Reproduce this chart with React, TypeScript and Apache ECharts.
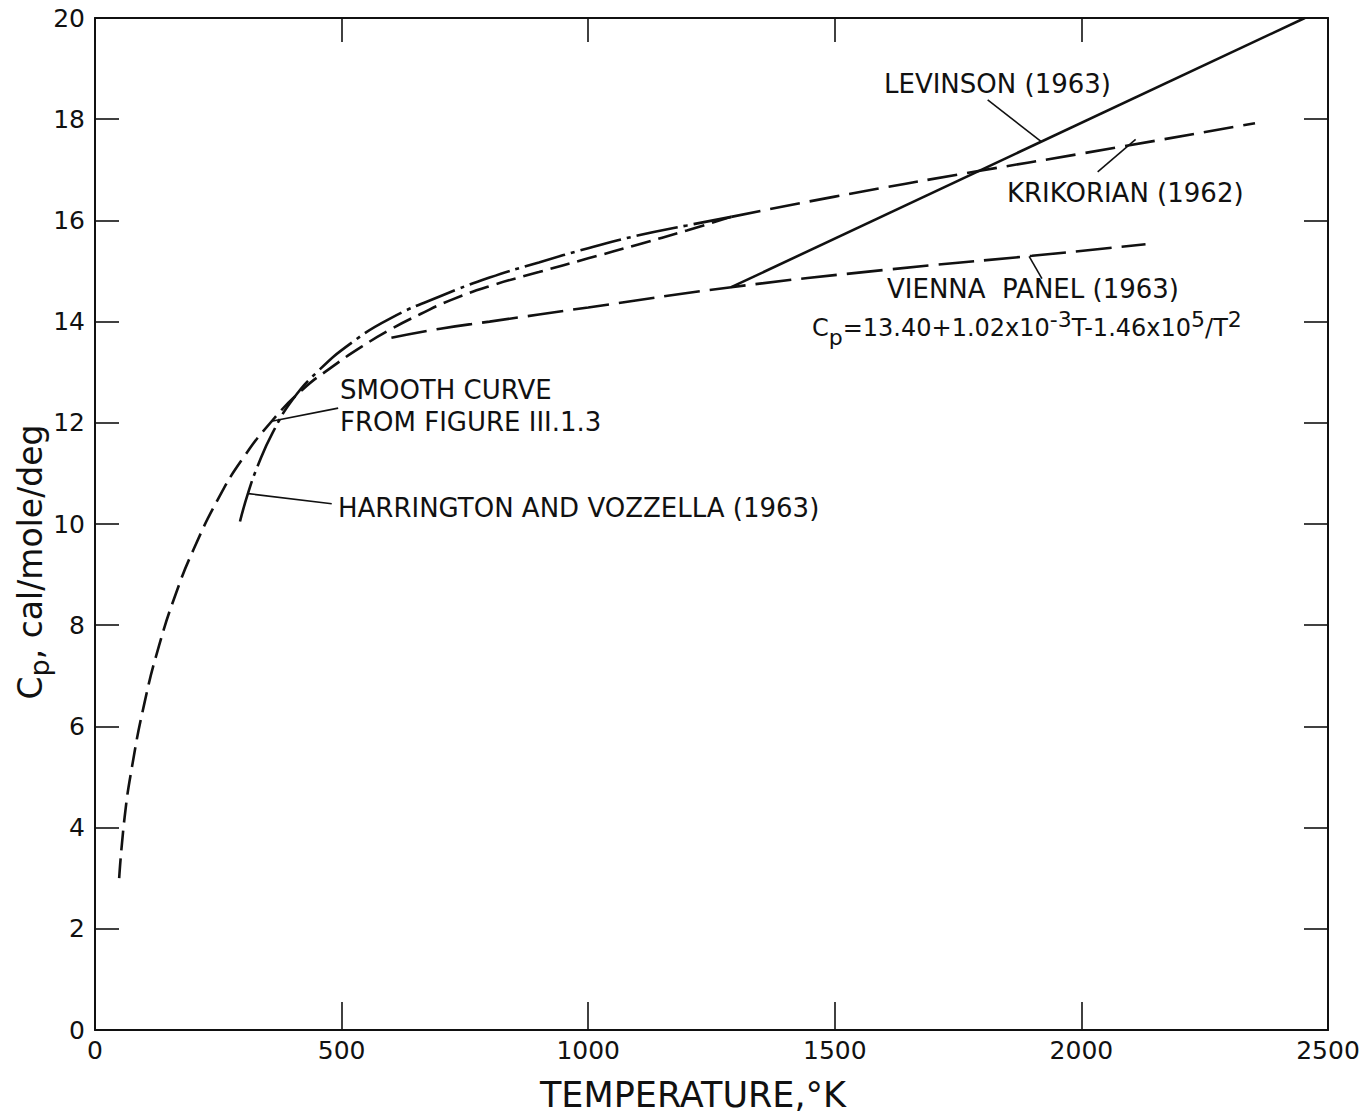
import React, { useEffect, useRef } from "react";
import * as echarts from "echarts";

// Tick values
const xTicks = [0, 500, 1000, 1500, 2000, 2500];
const yTicks = [0, 2, 4, 6, 8, 10, 12, 14, 16, 18, 20];

// Smooth curve from Figure III.1.3 (dashed)
const smoothCurve: [number, number][] = [
  [49, 3.0], [60, 4.2], [75, 5.2], [100, 6.45], [130, 7.6], [165, 8.65],
  [200, 9.5], [250, 10.5], [300, 11.3], [360, 12.05], [420, 12.65],
  [480, 13.1], [540, 13.5], [600, 13.85], [660, 14.15], [720, 14.42],
  [800, 14.7], [900, 14.98], [1000, 15.25], [1100, 15.52], [1200, 15.8],
  [1290, 16.07],
];

// Harrington and Vozzella (1963) (dash-dot)
const harrington: [number, number][] = [
  [294, 10.05], [310, 10.6], [330, 11.15], [360, 11.8], [400, 12.45],
  [450, 13.0], [520, 13.58], [600, 14.07], [700, 14.5], [800, 14.87],
  [900, 15.17], [1000, 15.45], [1100, 15.7], [1200, 15.9], [1290, 16.07],
];

// Krikorian (1962) (dashed)
const krikorian: [number, number][] = [
  [1290, 16.07], [1500, 16.47], [1788, 16.97], [2000, 17.32], [2352, 17.92],
];

// Vienna Panel (1963) (long dashed)
const vienna: [number, number][] = [
  [601, 13.68], [700, 13.86], [800, 14.0], [1000, 14.28], [1290, 14.68],
  [1600, 15.02], [1900, 15.3], [2130, 15.53],
];

// Levinson (1963) (solid)
const levinson: [number, number][] = [
  [1290, 14.68], [2453, 20.0],
];

// Leader lines from labels to curves
const leaders: [number, number][][] = [
  [[1918, 17.56], [1810, 18.38]],
  [[2110, 17.6], [2033, 16.96]],
  [[1894, 15.29], [1920, 14.85]],
  [[358, 12.03], [493, 12.29]],
  [[311, 10.6], [480, 10.4]],
];

const FONT = "DejaVu Sans";
const INK = "#111";

export default function App() {
  const ref = useRef<HTMLDivElement>(null);
  useEffect(() => {
    document.body.style.margin = "0";
    if (!ref.current) return;
    const chart = echarts.init(ref.current, null, { renderer: "svg" });

    const curve = (name: string, data: [number, number][], type: any, smooth: number | boolean) => ({
      name,
      type: "line",
      data,
      smooth,
      symbol: "none",
      silent: true,
      lineStyle: { color: INK, width: 2.6, type, cap: "butt" },
      z: 3,
    });

    const series: any[] = [
      curve("Smooth curve from Figure III.1.3", smoothCurve, [20, 8], 0.5),
      curve("Harrington and Vozzella (1963)", harrington, [42, 6, 4, 6], 0.5),
      curve("Krikorian (1962)", krikorian, [30, 10], 0.5),
      curve("Vienna Panel (1963)", vienna, [36, 10], 0.5),
      curve("Levinson (1963)", levinson, "solid", false),
      ...leaders.map((seg, i) => ({
        name: "leader" + i,
        type: "line",
        data: seg,
        symbol: "none",
        silent: true,
        lineStyle: { color: INK, width: 1.6, type: "solid" },
        z: 2,
      })),
    ];

    const axisCommon = {
      type: "value",
      splitLine: { show: false },
      axisLine: { show: true, onZero: false, lineStyle: { color: INK, width: 2 } },
    };

    const labelText = (text: string, x: number, y: number, extra: any = {}) => ({
      type: "text",
      x,
      y,
      silent: true,
      style: {
        text,
        fill: INK,
        font: `26px "${FONT}"`,
        align: "left",
        verticalAlign: "middle",
        ...extra,
      },
    });

    const fmt = (v: number) => String(v);

    chart.setOption({
      animation: false,
      backgroundColor: "#fff",
      grid: { left: 95, right: 40, top: 18, bottom: 87 },
      xAxis: [
        {
          ...axisCommon,
          position: "bottom",
          min: xTicks[0],
          max: xTicks[xTicks.length - 1],
          interval: xTicks[1] - xTicks[0],
          axisTick: { show: true, inside: true, length: 28, lineStyle: { color: INK, width: 1.6 } },
          axisLabel: { color: INK, fontSize: 25, fontFamily: FONT, margin: 8, formatter: fmt },
        },
        {
          ...axisCommon,
          position: "top",
          min: xTicks[0],
          max: xTicks[xTicks.length - 1],
          interval: xTicks[1] - xTicks[0],
          axisTick: { show: true, inside: true, length: 24, lineStyle: { color: INK, width: 1.6 } },
          axisLabel: { show: false },
        },
      ],
      yAxis: [
        {
          ...axisCommon,
          position: "left",
          min: yTicks[0],
          max: yTicks[yTicks.length - 1],
          interval: yTicks[1] - yTicks[0],
          axisTick: { show: true, inside: true, length: 24, lineStyle: { color: INK, width: 1.6 } },
          axisLabel: { color: INK, fontSize: 25, fontFamily: FONT, margin: 10, formatter: fmt },
        },
        {
          ...axisCommon,
          position: "right",
          min: yTicks[0],
          max: yTicks[yTicks.length - 1],
          interval: yTicks[1] - yTicks[0],
          axisTick: { show: true, inside: true, length: 24, lineStyle: { color: INK, width: 1.6 } },
          axisLabel: { show: false },
        },
      ],
      series,
      graphic: [
        labelText("LEVINSON (1963)", 884, 84),
        labelText("KRIKORIAN (1962)", 1007, 193),
        labelText("VIENNA  PANEL (1963)", 887, 289),
        {
          type: "text",
          x: 812,
          y: 328,
          silent: true,
          style: {
            text: "{n|C}{s|p}{n|=13.40+1.02x10}{u|-3}{n|T-1.46x10}{u|5}{n|/T}{u|2}",
            fill: INK,
            align: "left",
            verticalAlign: "middle",
            rich: {
              n: { fontSize: 24, fontFamily: FONT, fill: INK, verticalAlign: "middle" },
              s: { fontSize: 22, fontFamily: FONT, fill: INK, padding: [18, 0, 0, 0], verticalAlign: "middle" },
              u: { fontSize: 22, fontFamily: FONT, fill: INK, padding: [0, 0, 18, 0], verticalAlign: "middle" },
            },
          },
        },
        labelText("SMOOTH CURVE", 340, 390),
        labelText("FROM FIGURE III.1.3", 340, 422),
        labelText("HARRINGTON AND VOZZELLA (1963)", 338, 508),
        labelText("TEMPERATURE,°K", 693, 1095, { font: `35px "${FONT}"`, align: "center" }),
        {
          type: "text",
          x: 30,
          y: 562,
          rotation: Math.PI / 2,
          silent: true,
          style: {
            text: "{n|C}{s|p}{n|, cal/mole/deg}",
            fill: INK,
            align: "center",
            verticalAlign: "middle",
            rich: {
              n: { fontSize: 33, fontFamily: FONT, fill: INK, verticalAlign: "middle" },
              s: { fontSize: 27, fontFamily: FONT, fill: INK, padding: [18, 0, 0, 0], verticalAlign: "middle" },
            },
          },
        },
      ],
    });
    return () => chart.dispose();
  }, []);
  return <div ref={ref} style={{ width: 1368, height: 1117 }} />;
}
